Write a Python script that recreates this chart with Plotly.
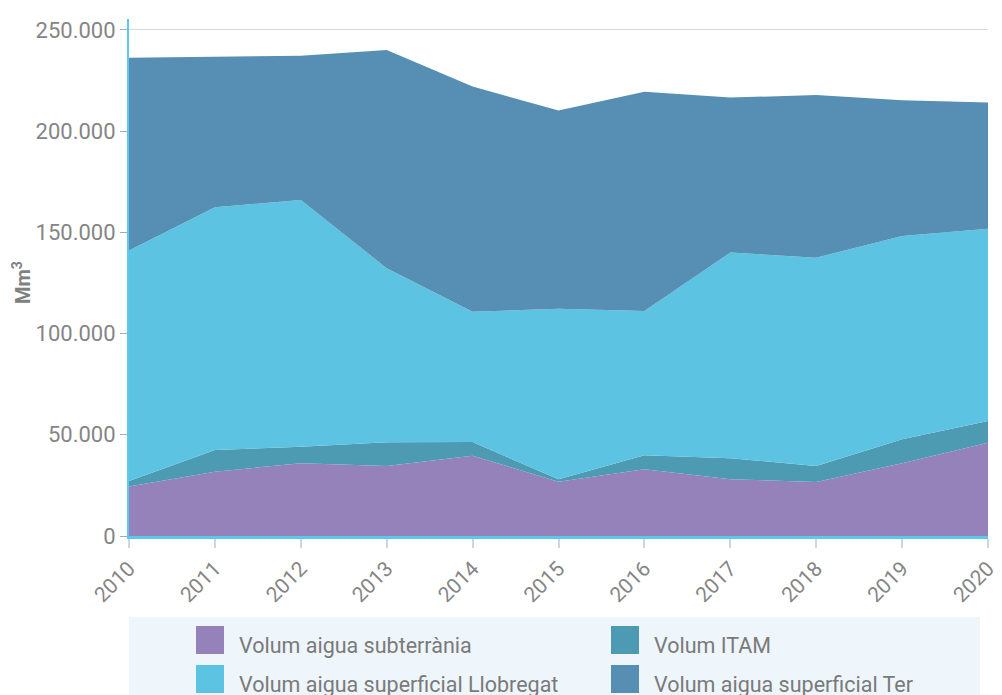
import plotly.graph_objects as go

years = [2010, 2011, 2012, 2013, 2014, 2015, 2016, 2017, 2018, 2019, 2020]
subterrania = [24400, 31800, 35900, 34600, 39700, 26800, 33000, 28000, 26700, 35900, 46100]
itam = [2800, 10700, 8200, 11700, 6700, 1200, 6900, 10400, 7900, 11900, 10700]
llobregat = [113800, 119900, 121900, 86000, 64400, 84300, 71300, 101600, 102900, 100400, 95000]
ter = [95300, 74300, 71200, 107800, 111200, 97900, 108200, 76600, 80300, 67100, 62400]

series_names = ["Volum aigua subterrània", "Volum ITAM",
                "Volum aigua superficial Llobregat", "Volum aigua superficial Ter"]
series_values = [subterrania, itam, llobregat, ter]
series_colors = ["#9682bb", "#4d9bb2", "#5dc3e2", "#568eb4"]

y_ticks = [0, 50000, 100000, 150000, 200000, 250000]

FONT = "Roboto"
OFF = 8  # page body margin offset
W, H = 1002 - OFF, 695 - OFF
L, R, T, B = 129 - OFF, 14, 19 - OFF, 159
PW = W - L - R
PH = H - T - B


def px(x):
    # page pixel -> paper x
    return (x - OFF - L) / PW


def py(y):
    # page pixel -> paper y
    return (H - B - (y - OFF)) / PH


fig = go.Figure()
for name, vals, col in zip(series_names, series_values, series_colors):
    fig.add_trace(go.Scatter(
        x=years, y=vals, name=name, mode="lines", stackgroup="one",
        line=dict(width=0, color=col), fillcolor=col, showlegend=False,
    ))

shapes = [dict(type="rect", xref="paper", yref="paper",
               x0=px(129), x1=px(980), y0=py(700), y1=py(617),
               fillcolor="#eef6fc", line=dict(width=0), layer="below")]
annotations = [dict(text="<b>Mm<sup>3</sup></b>", xref="paper", yref="paper",
                    x=px(22), y=py(283), xanchor="center", yanchor="middle",
                    textangle=-90, showarrow=False,
                    font=dict(family=FONT, size=20, color="#808080"))]

legend_pos = [(196, 626), (611, 626), (196, 665), (611, 665)]
for (lx, ly), name, col in zip(legend_pos, series_names, series_colors):
    shapes.append(dict(type="rect", xref="paper", yref="paper",
                       x0=px(lx), x1=px(lx + 28), y0=py(ly + 28), y1=py(ly),
                       fillcolor=col, line=dict(width=0)))
    annotations.append(dict(text=name, xref="paper", yref="paper",
                            x=px(lx + 41), y=py(ly + 19), xanchor="left",
                            yanchor="middle", showarrow=False,
                            font=dict(family=FONT, size=21.5, color="#7a7a7a")))

fig.update_layout(
    width=W, height=H,
    margin=dict(l=L, r=R, t=T, b=B, autoexpand=False),
    paper_bgcolor="white", plot_bgcolor="white",
    separators=",.",
    showlegend=False,
    shapes=shapes, annotations=annotations,
    xaxis=dict(
        range=[2010, 2020], tickmode="array", tickvals=years,
        ticktext=[str(y) for y in years], tickangle=-45,
        showgrid=False, zeroline=False, automargin=False,
        showline=True, linecolor="#5bc8ef", linewidth=3,
        ticks="outside", ticklen=9, tickcolor="#ccd6eb", tickwidth=2,
        tickfont=dict(family=FONT, size=21, color="#858585"),
    ),
    yaxis=dict(
        range=[0, 255400], tickmode="array", tickvals=y_ticks,
        tickformat=",d", automargin=False,
        showgrid=True, gridcolor="#cfdde8", gridwidth=1, zeroline=False,
        showline=True, linecolor="#5bc8ef", linewidth=2,
        ticks="outside", ticklen=7, tickcolor="#aaaaaa", tickwidth=1,
        tickfont=dict(family=FONT, size=22, color="#858585"),
    ),
)

fig.write_html("out.html")
